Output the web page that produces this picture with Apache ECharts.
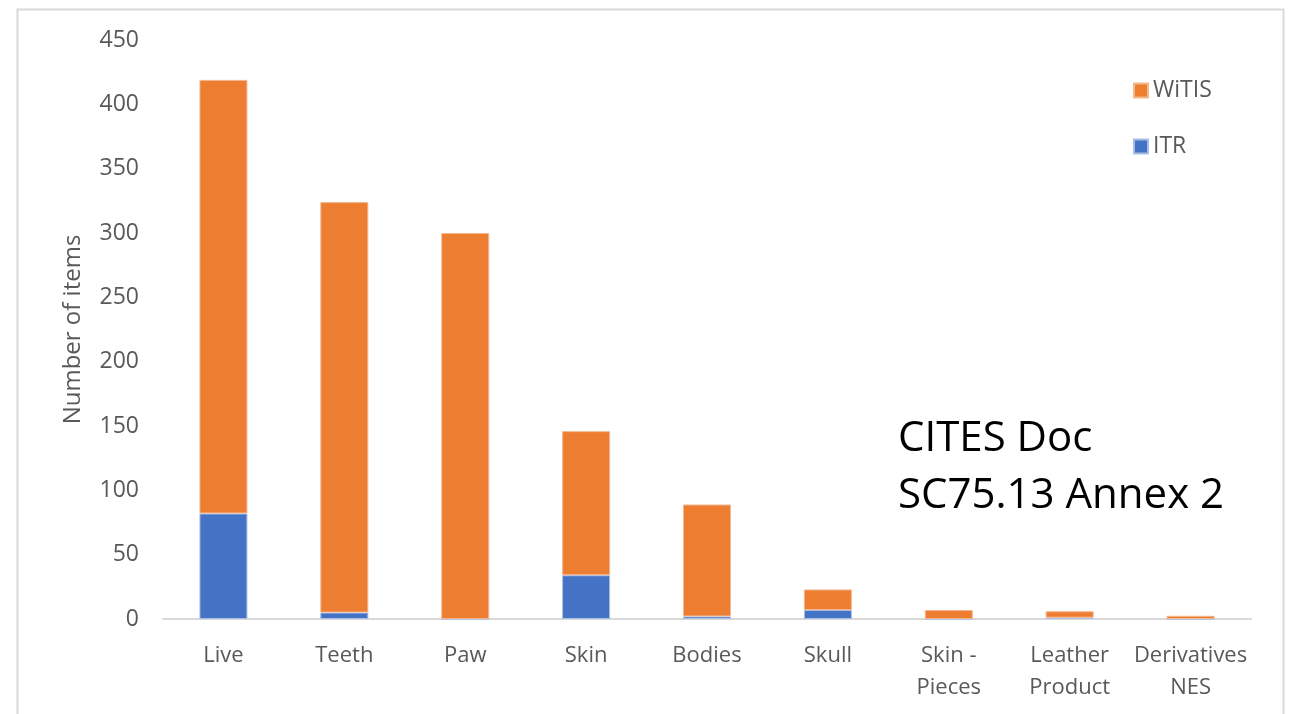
<!DOCTYPE html>
<html>
<head>
<meta charset="utf-8">
<script src="https://cdn.jsdelivr.net/npm/echarts@6/dist/echarts.min.js"></script>
<style>html,body{margin:0;padding:0;background:#fff;}#c{width:1291px;height:714px;}</style>
</head>
<body>
<div id="c"></div>
<script>
const categories = ['Live', 'Teeth', 'Paw', 'Skin', 'Bodies', 'Skull', 'Skin -\nPieces', 'Leather\nProduct', 'Derivatives\nNES'];
const itr = [82, 5, 0, 34, 2, 7, 0, 1, 0];
const witisTotal = [419, 324, 300, 146, 89, 23, 7, 6, 2.5];
const witis = witisTotal.map((t, i) => t - itr[i]);
const yTicks = { min: 0, max: 450, interval: 50 };

const chart = echarts.init(document.getElementById('c'));
const font = 'Open Sans, Noto Sans, sans-serif';
chart.setOption({
  animation: false,
  graphic: [
    { type: 'rect', shape: { x: 17.5, y: 9.5, width: 1266, height: 720 }, style: { fill: 'none', stroke: '#d9d9d9', lineWidth: 2 }, z: -1 },
    { type: 'text', left: 898, top: 411, style: { text: 'CITES Doc\nSC75.13 Annex 2', font: '42px ' + font, fill: '#000', lineHeight: 57 } }
  ],
  legend: {
    orient: 'vertical',
    left: 1128,
    top: 74,
    itemGap: 33,
    itemWidth: 14,
    itemHeight: 14,
    icon: 'rect',
    textStyle: { fontSize: 23, color: '#595959', fontFamily: font },
    data: ['WiTIS', 'ITR']
  },
  grid: { left: 163, right: 40, top: 40, bottom: 95, containLabel: false },
  xAxis: {
    type: 'category',
    data: categories,
    axisLine: { lineStyle: { color: '#d9d9d9', width: 2 } },
    axisTick: { show: false },
    axisLabel: { fontSize: 22, color: '#595959', fontFamily: font, margin: 21, lineHeight: 32, interval: 0 }
  },
  yAxis: {
    type: 'value',
    min: yTicks.min, max: yTicks.max, interval: yTicks.interval,
    name: 'Number of items',
    nameLocation: 'middle',
    nameGap: 78,
    nameTextStyle: { fontSize: 24, color: '#595959', fontFamily: font },
    splitLine: { show: false },
    axisLine: { show: false },
    axisTick: { show: false },
    axisLabel: { fontSize: 23, color: '#595959', fontFamily: font, margin: 24 }
  },
  series: [
    { name: 'ITR', type: 'bar', stack: 'a', data: itr, barWidth: 48, itemStyle: { color: '#4472C4', borderColor: '#a9bde6', borderWidth: 1 } },
    { name: 'WiTIS', type: 'bar', stack: 'a', data: witis, barWidth: 48, itemStyle: { color: '#ED7D31', borderColor: '#f5b78e', borderWidth: 1 } }
  ]
});
</script>
</body>
</html>
